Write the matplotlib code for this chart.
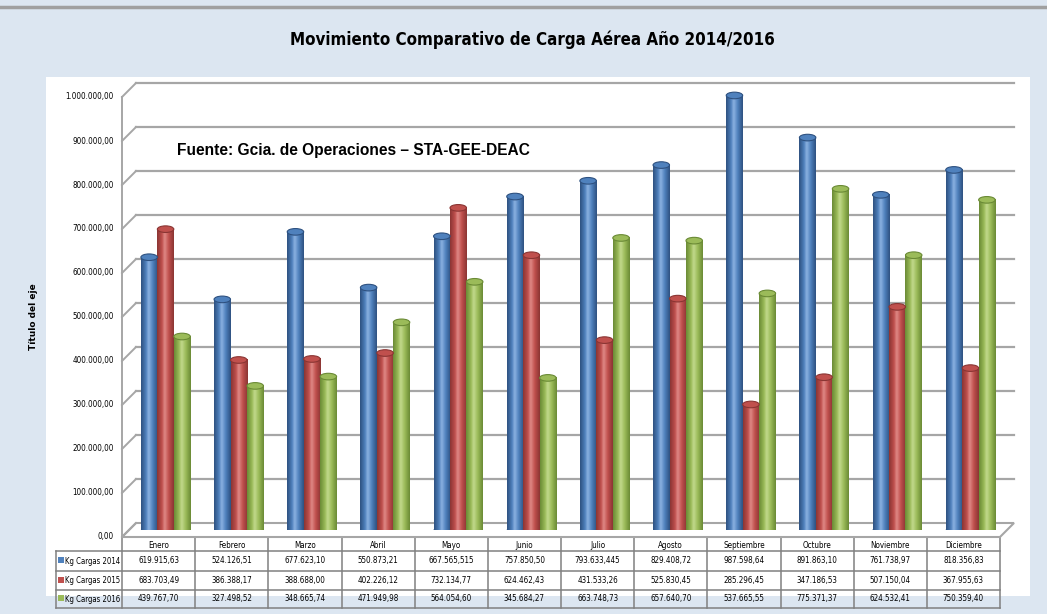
import numpy as np
import matplotlib
matplotlib.use('Agg')
import matplotlib.pyplot as plt
from matplotlib import font_manager
from matplotlib.patches import Rectangle, Ellipse, Polygon
from matplotlib.colors import LinearSegmentedColormap
from matplotlib.transforms import ScaledTranslation

# --- datos (tal como aparecen en la tabla) ---
meses = ['Enero', 'Febrero', 'Marzo', 'Abril', 'Mayo', 'Junio', 'Julio',
         'Agosto', 'Septiembre', 'Octubre', 'Noviembre', 'Diciembre']
series = ['Kg Cargas 2014', 'Kg Cargas 2015', 'Kg Cargas 2016']
carga_2014 = ['619.915,63', '524.126,51', '677.623,10', '550.873,21', '667.565,515', '757.850,50',
              '793.633,445', '829.408,72', '987.598,64', '891.863,10', '761.738,97', '818.356,83']
carga_2015 = ['683.703,49', '386.388,17', '388.688,00', '402.226,12', '732.134,77', '624.462,43',
              '431.533,26', '525.830,45', '285.296,45', '347.186,53', '507.150,04', '367.955,63']
carga_2016 = ['439.767,70', '327.498,52', '348.665,74', '471.949,98', '564.054,60', '345.684,27',
              '663.748,73', '657.640,70', '537.665,55', '775.371,37', '624.532,41', '750.359,40']
ticks_y = [0, 100000, 200000, 300000, 400000, 500000, 600000, 700000, 800000, 900000, 1000000]

colores = ['#4F81BD', '#C0504D', '#9BBB59']
oscuros = ['#2E5180', '#8A3533', '#6A8A35']
claros = ['#8DB3E2', '#E08B88', '#C3DA8E']


def a_numero(s):
    return float(s.replace('.', '').replace(',', '.'))


def fmt(v):
    return f"{v:,.2f}".replace(',', 'X').replace('.', ',').replace('X', '.')


tabla = [carga_2014, carga_2015, carga_2016]
valores = [np.array([a_numero(s) for s in fila]) for fila in tabla]

# fuente angosta si existe (parecida a Calibri)
fuentes = font_manager.fontManager.ttflist
nombres = {f.name for f in fuentes}
if 'Liberation Sans Narrow' in nombres:
    angosta = dict(family='Liberation Sans Narrow')
elif 'DejaVu Sans Condensed' in nombres:
    angosta = dict(family='DejaVu Sans Condensed')
elif any(f.name == 'DejaVu Sans' and f.stretch == 'condensed' for f in fuentes):
    angosta = dict(family='DejaVu Sans', fontstretch='condensed')
else:
    angosta = dict(family='Liberation Sans')

W, H = 1047, 614
fig = plt.figure(figsize=(W / 100, H / 100), dpi=100)
fig.patch.set_facecolor('#DCE6F1')

# capa de fondo en pixeles
bg = fig.add_axes([0, 0, 1, 1], zorder=0)
bg.set_xlim(0, W)
bg.set_ylim(H, 0)
bg.axis('off')
bg.plot([0, W], [7, 7], color='#A0A0A0', lw=2.5)
bg.add_patch(Rectangle((46, 77), 1030 - 46, 596 - 77, facecolor='white', edgecolor='none'))
bg.text(532, 40, 'Movimiento Comparativo de Carga Aérea Año 2014/2016', ha='center', va='center',
        fontsize=12.2, fontweight='bold', **angosta)

# plano medio de las barras (profundidad 14 px)
n = len(meses)
xi = np.arange(n)
ax = fig.add_axes([129 / W, (H - 530) / H, 878 / W, 440 / H], zorder=1)
ax.patch.set_alpha(0)
ax.axis('off')
ax.set_xlim(-0.5, n - 0.5)
ax.set_ylim(0, 1000000)
front = ax.transData + ScaledTranslation(-0.07, -0.07, fig.dpi_scale_trans)
back = ax.transData + ScaledTranslation(0.07, 0.07, fig.dpi_scale_trans)
gris = '#A6A6A6'

# piso
pf = front.transform([(-0.5, 0), (n - 0.5, 0)])
pb = back.transform([(n - 0.5, 0), (-0.5, 0)])
ax.add_patch(Polygon(np.vstack([pf, pb]), closed=True, transform=None,
                     facecolor='white', edgecolor=gris, lw=1.5, zorder=1.5, clip_on=False))

# lineas de division y eje
for v in ticks_y[1:]:
    ax.plot([-0.5, n - 0.5], [v, v], transform=back, color=gris, lw=1.6, clip_on=False, zorder=1)
for v in ticks_y:
    p0 = front.transform((-0.5, v))
    p1 = back.transform((-0.5, v))
    ax.plot([p0[0], p1[0]], [p0[1], p1[1]], transform=None, color=gris, lw=1.4, clip_on=False, zorder=1.6)
    ax.text(-0.5, v, fmt(v), transform=front + ScaledTranslation(-0.08, 0, fig.dpi_scale_trans),
            ha='right', va='center', fontsize=5.8, **angosta)
ax.plot([-0.5, -0.5], [0, ticks_y[-1]], transform=front, color=gris, lw=1.4, clip_on=False)

# barras cilindricas
ancho = 0.225
desp = [-ancho, 0, ancho]
cap = 15000
grad = np.linspace(0, 1, 64).reshape(1, -1)
for k in range(3):
    cm = LinearSegmentedColormap.from_list(
        'c%d' % k, [(0, oscuros[k]), (0.3, colores[k]), (0.45, claros[k]), (0.7, colores[k]), (1, oscuros[k])])
    for i in xi:
        xc = i + desp[k]
        h = valores[k][i]
        ax.add_patch(Ellipse((xc, 0), ancho, cap, facecolor=oscuros[k], edgecolor='none', zorder=2))
        ax.imshow(grad, extent=[xc - ancho / 2, xc + ancho / 2, 0, h], aspect='auto', cmap=cm,
                  interpolation='bicubic', zorder=3)
        ax.add_patch(Ellipse((xc, h), ancho, cap, facecolor=colores[k], edgecolor=oscuros[k],
                             lw=0.8, zorder=4))
ax.set_xlim(-0.5, n - 0.5)
ax.set_ylim(0, 1000000)

bg.text(33, 317, 'Título del eje', rotation=90, ha='center', va='center', fontsize=6.5, fontweight='bold')
bg.text(177, 150, 'Fuente: Gcia. de Operaciones – STA-GEE-DEAC', ha='left', va='center',
        fontsize=11.2, fontweight='bold', family=['Liberation Sans', 'DejaVu Sans'], zorder=5)

# tabla de datos
x0, x1 = 122, 1000
cw = (x1 - x0) / n
lx = 56
filas_y = [551, 571, 590, 608]
lc = '#808080'
for j in range(n + 1):
    x = x0 + j * cw
    bg.plot([x, x], [537, 608], color=lc, lw=1.1)
for j in range(n):
    bg.text(x0 + (j + 0.5) * cw, 545, meses[j], ha='center', va='center', fontsize=5.8, **angosta)
for y in filas_y:
    bg.plot([lx, x1], [y, y], color=lc, lw=1.1)
bg.plot([lx, lx], [filas_y[0], filas_y[-1]], color=lc, lw=1.1)
for r in range(3):
    yc = (filas_y[r] + filas_y[r + 1]) / 2
    bg.add_patch(Rectangle((58, yc - 4), 6, 6, facecolor=colores[r], edgecolor='none'))
    bg.text(65, yc, series[r], ha='left', va='center', fontsize=5.6, **angosta)
    for j in range(n):
        bg.text(x0 + (j + 0.5) * cw, yc, tabla[r][j], ha='center', va='center', fontsize=5.8, **angosta)

fig.savefig('out.png', dpi=100, facecolor=fig.get_facecolor())
